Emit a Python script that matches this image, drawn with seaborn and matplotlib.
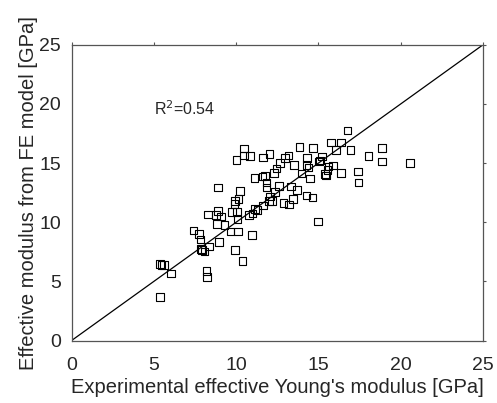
import numpy as np
import pandas as pd
import matplotlib
matplotlib.use("Agg")
import matplotlib.pyplot as plt
import seaborn as sns

# experimental vs FE-predicted effective modulus, GPa
experimental = [16.76, 20.57, 18.85, 18.85, 18.04, 17.39, 17.43, 16.94, 16.38, 15.75,
                16.07, 16.38, 15.87, 15.61, 15.55, 15.45, 15.40, 15.20, 15.04, 14.98,
                14.66, 14.64, 14.47, 14.31, 14.27, 14.27, 14.39, 13.97, 13.85, 13.70,
                13.50, 13.46, 13.34, 13.18, 13.22, 12.96, 12.87, 12.67, 12.59, 12.45,
                12.37, 12.29, 12.17, 12.04, 12.02, 12.00, 11.84, 11.84, 11.76, 11.64,
                11.60, 11.64, 11.30, 11.11, 11.15, 10.99, 10.83, 10.79, 10.95, 10.49,
                10.49, 10.38, 10.24, 10.14, 10.02, 9.94, 9.90, 10.04, 10.08, 10.10,
                9.92, 9.76, 9.66, 9.29, 9.09, 8.91, 8.91, 8.85, 8.77, 8.95,
                8.28, 8.34, 8.20, 8.22, 8.08, 7.94, 7.87, 7.83, 7.75, 7.41,
                6.05, 5.61, 5.47, 5.38, 5.38, 15.08]
fe_model = [17.76, 14.98, 16.27, 15.12, 15.62, 14.27, 13.37, 16.10, 16.75, 16.75,
            16.10, 14.16, 14.78, 14.70, 14.41, 13.94, 14.08, 15.54, 15.12, 10.05,
            16.27, 12.08, 13.71, 15.43, 14.81, 12.25, 14.61, 14.13, 16.36, 12.73,
            14.84, 11.96, 13.01, 15.65, 11.49, 15.43, 11.60, 14.98, 13.06, 14.55,
            12.53, 14.16, 11.80, 12.16, 15.79, 11.77, 12.95, 13.37, 13.91, 15.48,
            13.85, 11.40, 11.04, 13.74, 11.12, 10.73, 15.60, 10.59, 8.92, 16.22,
            15.63, 6.70, 12.64, 11.96, 15.26, 11.80, 11.54, 10.87, 10.25, 9.23,
            7.63, 10.84, 9.23, 9.74, 10.47, 12.92, 10.95, 9.85, 10.61, 8.33,
            10.64, 7.94, 5.86, 5.38, 7.52, 7.63, 7.74, 8.53, 8.98, 9.29,
            5.66, 6.36, 6.36, 6.45, 3.69, 15.20]
ticks = [0, 5, 10, 15, 20, 25]

df = pd.DataFrame({"exp": experimental, "fe": fe_model})

sns.set_style("white")
plt.rcParams["font.family"] = ["Liberation Sans", "DejaVu Sans"]

fig = plt.figure(figsize=(4.97, 4.03), dpi=100)
ax = fig.add_axes([0.144, 0.155, 0.828, 0.734])

sns.scatterplot(data=df, x="exp", y="fe", marker="s", s=30,
                facecolor="none", edgecolor="black", linewidth=0.8, ax=ax)
ax.plot([0, 25], [0, 25], color="black", linewidth=0.9)

ax.set_xlim(0, 25)
ax.set_ylim(0, 25)
ax.set_xticks(ticks)
ax.set_yticks(ticks)
ax.tick_params(direction="out", top=True, right=True, labelsize=14,
               length=2.5, width=0.8, color="#555555")
ax.tick_params(axis="x", pad=9)
ax.tick_params(axis="y", pad=5)
for sp in ax.spines.values():
    sp.set_color("#555555")
    sp.set_linewidth(0.9)

ax.set_xlabel("Experimental effective Young's modulus [GPa]", fontsize=14.5, labelpad=3)
ax.set_ylabel("Effective modulus from FE model [GPa]", fontsize=14.5, labelpad=1)
ax.text(5.0, 19.6, r"R$^2$=0.54", fontsize=11.5, va="center")

fig.savefig("out.png", dpi=100)
